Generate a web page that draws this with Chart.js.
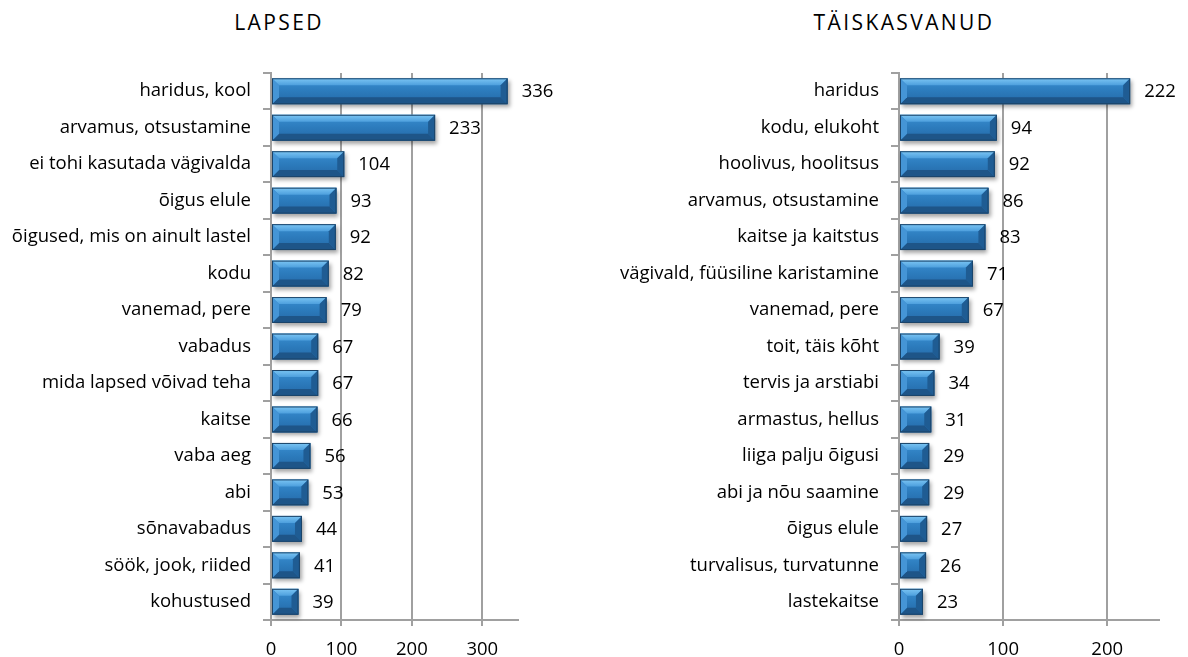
<!DOCTYPE html>
<html>
<head>
<meta charset="utf-8">
<script src="https://cdn.jsdelivr.net/npm/chart.js@4.4.1/dist/chart.umd.min.js"></script>
<style>
  html, body { margin: 0; padding: 0; background: #fff; }
  body { width: 1188px; height: 657px; position: relative; overflow: hidden; font-family: 'Open Sans', sans-serif; }
  .box { position: absolute; top: 0; width: 594px; height: 657px; }
  .title { position: absolute; font-family: 'Open Sans', sans-serif; font-size: 21px; line-height: 21px; letter-spacing: 2.4px; color: #000; white-space: nowrap; transform: translateX(-50%); }
</style>
</head>
<body>
<div class="title" id="t1" style="left:279px; top:12px;">LAPSED</div>
<div class="title" id="t2" style="left:904px; top:12px;">TÄISKASVANUD</div>
<div class="box" style="left:0;"><canvas id="c1"></canvas></div>
<div class="box" style="left:594px;"><canvas id="c2"></canvas></div>
<script>
// ---- DATA ----
const childCategories = ["haridus, kool", "arvamus, otsustamine", "ei tohi kasutada vägivalda", "õigus elule", "õigused, mis on ainult lastel", "kodu", "vanemad, pere", "vabadus", "mida lapsed võivad teha", "kaitse", "vaba aeg", "abi", "sõnavabadus", "söök, jook, riided", "kohustused"];
const childValues = [336, 233, 104, 93, 92, 82, 79, 67, 67, 66, 56, 53, 44, 41, 39];
const childTicks = [0, 100, 200, 300];

const adultCategories = ["haridus", "kodu, elukoht", "hoolivus, hoolitsus", "arvamus, otsustamine", "kaitse ja kaitstus", "vägivald, füüsiline karistamine", "vanemad, pere", "toit, täis kõht", "tervis ja arstiabi", "armastus, hellus", "liiga palju õigusi", "abi ja nõu saamine", "õigus elule", "turvalisus, turvatunne", "lastekaitse"];
const adultValues = [222, 94, 92, 86, 83, 71, 67, 39, 34, 31, 29, 29, 27, 26, 23];
const adultTicks = [0, 100, 200];

const childTitle = "LAPSED";
const adultTitle = "TÄISKASVANUD";
document.getElementById('t1').textContent = childTitle;
document.getElementById('t2').textContent = adultTitle;

// ---- STYLE ----
Chart.defaults.font.family = "'Open Sans', sans-serif";
Chart.defaults.font.size = 18.5;
Chart.defaults.color = '#000';
const GRID = '#a0a0a0';

const bevelPlugin = {
  id: 'bevel',
  afterDatasetsDraw(chart) {
    const ctx = chart.ctx;
    const meta = chart.getDatasetMeta(0);
    const data = chart.data.datasets[0].data;
    meta.data.forEach((bar, i) => {
      const x0 = Math.min(bar.base, bar.x), x1 = Math.max(bar.base, bar.x);
      const h = bar.height;
      const y0 = bar.y - h / 2, y1 = bar.y + h / 2;
      const b = Math.min(7, (x1 - x0) / 2, h / 2);
      ctx.save();
      ctx.shadowColor = 'rgba(0,0,0,0.35)';
      ctx.shadowBlur = 4;
      ctx.shadowOffsetX = 2;
      ctx.shadowOffsetY = 3;
      const g = ctx.createLinearGradient(0, y0, 0, y1);
      g.addColorStop(0, '#3a8fd2');
      g.addColorStop(0.5, '#2c7bbc');
      g.addColorStop(1, '#2468a6');
      ctx.fillStyle = g;
      ctx.fillRect(x0, y0, x1 - x0, h);
      ctx.restore();
      ctx.save();
      const poly = (pts, fill) => {
        ctx.beginPath();
        ctx.moveTo(pts[0][0], pts[0][1]);
        for (let k = 1; k < pts.length; k++) ctx.lineTo(pts[k][0], pts[k][1]);
        ctx.closePath();
        ctx.fillStyle = fill;
        ctx.fill();
      };
      const gt = ctx.createLinearGradient(0, y0, 0, y0 + b);
      gt.addColorStop(0, '#7cc6f4');
      gt.addColorStop(1, '#4d9fdd');
      poly([[x0, y0], [x1, y0], [x1 - b, y0 + b], [x0 + b, y0 + b]], gt);
      poly([[x0, y1], [x1, y1], [x1 - b, y1 - b], [x0 + b, y1 - b]], '#1e5588');
      poly([[x0, y0], [x0 + b, y0 + b], [x0 + b, y1 - b], [x0, y1]], '#4595d6');
      poly([[x1, y0], [x1 - b, y0 + b], [x1 - b, y1 - b], [x1, y1]], '#1f5c93');
      ctx.strokeStyle = '#1b4469';
      ctx.lineWidth = 1;
      ctx.strokeRect(x0 + 0.5, y0 + 0.5, x1 - x0 - 1, h - 1);
      ctx.fillStyle = '#000';
      ctx.font = "18.5px 'Open Sans', sans-serif";
      ctx.textAlign = 'left';
      ctx.textBaseline = 'middle';
      ctx.fillText(String(data[i]), x1 + 14, bar.y + 1);
      ctx.restore();
    });
  }
};

function makeChart(id, labels, values, ticks, maxV, yWidth, padRight) {
  return new Chart(document.getElementById(id), {
    type: 'bar',
    data: {
      labels: labels,
      datasets: [{
        data: values,
        backgroundColor: 'rgba(0,0,0,0)',
        borderWidth: 0,
        categoryPercentage: 1,
        barPercentage: 0.71
      }]
    },
    options: {
      indexAxis: 'y',
      responsive: true,
      maintainAspectRatio: false,
      animation: false,
      layout: { padding: { left: 0, right: padRight, top: 73, bottom: 0 } },
      plugins: { legend: { display: false }, tooltip: { enabled: false }, title: { display: false } },
      scales: {
        x: {
          min: 0,
          max: maxV,
          ticks: { padding: 13 },
          afterBuildTicks(scale) { scale.ticks = ticks.map(v => ({ value: v })); },
          afterFit(scale) { scale.height = 37; },
          grid: { color: GRID, lineWidth: 2, tickLength: 6, drawTicks: true },
          border: { display: true, color: GRID, width: 2 }
        },
        y: {
          afterFit(scale) { scale.width = yWidth; },
          ticks: { padding: 12 },
          grid: { drawOnChartArea: false, drawTicks: true, tickLength: 8, color: GRID, lineWidth: 2, offset: true },
          border: { display: true, color: GRID, width: 2 }
        }
      }
    },
    plugins: [bevelPlugin]
  });
}

makeChart('c1', childCategories, childValues, childTicks, 350, 271, 76.5);
makeChart('c2', adultCategories, adultValues, adultTicks, 250, 305, 28.7);
</script>
</body>
</html>
